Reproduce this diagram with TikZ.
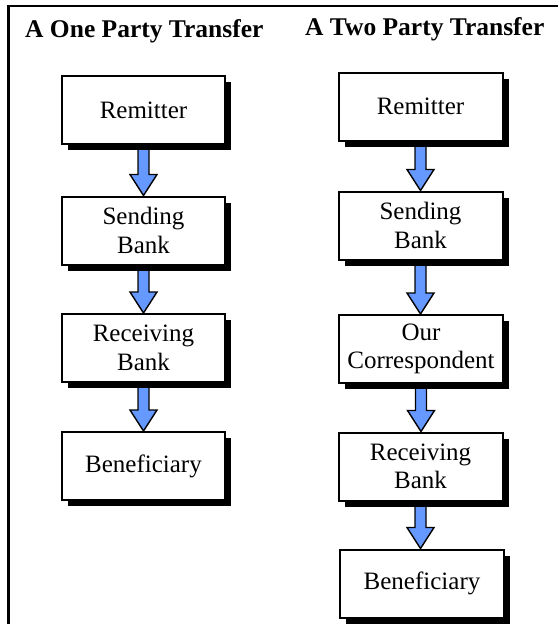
\documentclass[tikz,border=0pt]{standalone}
\usepackage{fontspec}
\setmainfont{Liberation Serif}
\usetikzlibrary{shadows,calc,backgrounds}
\definecolor{arrowblue}{RGB}{102,153,255}
\tikzset{
  box/.style={draw=black, line width=2pt, fill=white, minimum width=163pt, minimum height=68pt,
    inner sep=0pt, align=center, font=\fontsize{25}{28.5}\selectfont,
    drop shadow={shadow xshift=6pt, shadow yshift=-6pt, fill=black, opacity=1}},
  title/.style={anchor=base west, inner sep=0pt, font=\fontsize{25.5}{28}\selectfont\bfseries},
  blockarrow/.style={draw=black, line width=1.4pt, fill=arrowblue, line join=miter}
}
\newcommand\flowarr[2]{%
  \path[blockarrow] let \p1=(#1.south), \p2=(#2.north) in
    (\x1-5.5pt,\y1) -- (\x1+5.5pt,\y1) -- (\x1+5.5pt,\y2+21pt) -- (\x1+13.5pt,\y2+21pt)
    -- (\x1,\y2) -- (\x1-13.5pt,\y2+21pt) -- (\x1-5.5pt,\y2+21pt) -- cycle;}
\begin{document}
\begin{tikzpicture}[x=1pt,y=-1pt]
\useasboundingbox (0,0) rectangle (558,624);
\draw[line width=2.5pt] (8.5,624) -- (8.5,6) -- (558,6);
\node[title] (t1) at (25,37) {A One Party Transfer};
\node[title] (t2) at (305,35) {A Two Party Transfer};
% left column
\node[box] (l1) at (143.5,110) {Remitter};
\node[box] (l2) at (143.5,230.5) {Sending\\Bank};
\node[box] (l3) at (143.5,348) {Receiving\\Bank};
\node[box] (l4) at (143.5,466) {Beneficiary};
% right column
\node[box, minimum width=164pt] (r1) at (420.5,106.5) {Remitter};
\node[box, minimum width=164pt] (r2) at (420.5,225.5) {Sending\\Bank};
\node[box, minimum width=164pt] (r3) at (421,349) {Our\\Correspondent};
\node[box, minimum width=164pt] (r4) at (420.5,466.5) {Receiving\\Bank};
\node[box, minimum width=164pt] (r5) at (422,583.5) {Beneficiary};
% arrows behind the boxes
\begin{pgfonlayer}{background}
\flowarr{l1}{l2}
\flowarr{l2}{l3}
\flowarr{l3}{l4}
\flowarr{r1}{r2}
\flowarr{r2}{r3}
\flowarr{r3}{r4}
\flowarr{r4}{r5}
\end{pgfonlayer}
\end{tikzpicture}
\end{document}
